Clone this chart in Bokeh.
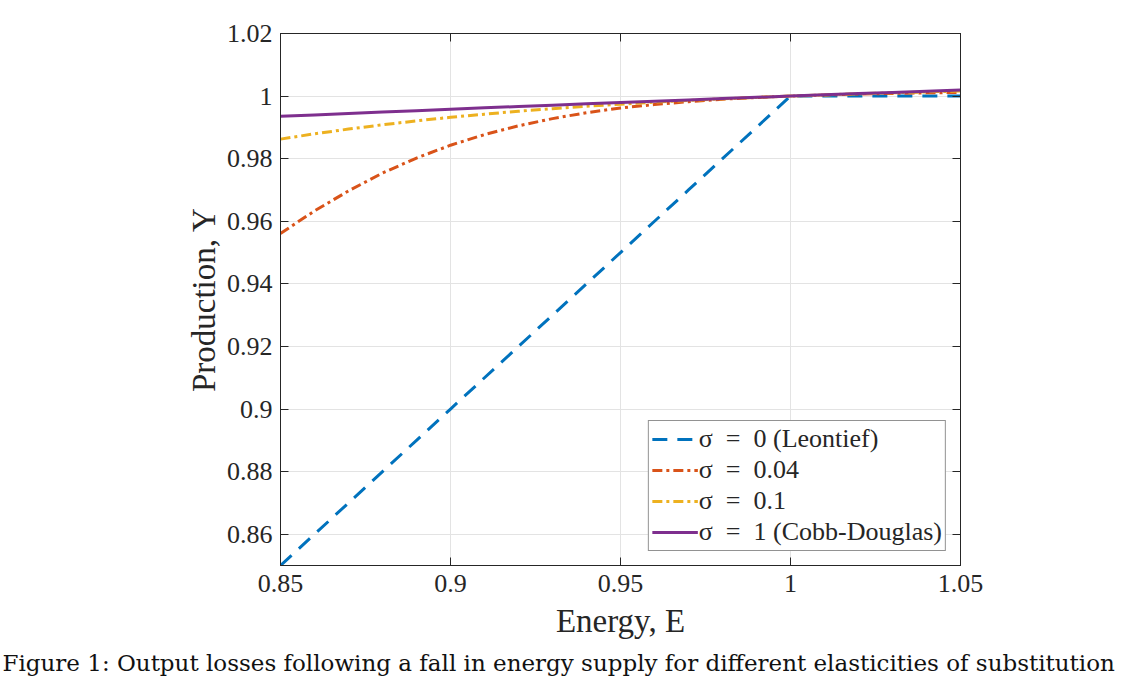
from bokeh.plotting import figure
from bokeh.models import (Range1d, FixedTicker, LinearAxis, Legend, LegendItem, Title,
                          CustomLabelingPolicy)
from bokeh.embed import file_html
from bokeh.resources import INLINE

# Energy grid
E = [0.85, 0.86, 0.87, 0.88, 0.89, 0.90, 0.91, 0.92, 0.93, 0.94, 0.95,
     0.96, 0.97, 0.98, 0.99, 1.00, 1.01, 1.02, 1.03, 1.04, 1.05]

# sigma = 0 (Leontief)
Y_leontief = [0.85, 0.86, 0.87, 0.88, 0.89, 0.90, 0.91, 0.92, 0.93, 0.94, 0.95,
              0.96, 0.97, 0.98, 0.99, 1.00, 1.00, 1.00, 1.00, 1.00, 1.00]
# sigma = 0.04
Y_s004 = [0.9561, 0.9633, 0.9697, 0.9754, 0.9802, 0.9843, 0.9877, 0.9905, 0.9928,
          0.9947, 0.9962, 0.9973, 0.9982, 0.9990, 0.99955, 1.0000, 1.00036, 1.00064,
          1.00086, 1.00103, 1.00117]
# sigma = 0.1
Y_s01 = [0.98625, 0.98794, 0.98946, 0.99084, 0.99208, 0.99321, 0.99423, 0.99515,
         0.99599, 0.99674, 0.99743, 0.99805, 0.99861, 0.99912, 0.99958, 1.0000,
         1.00038, 1.00073, 1.00104, 1.00133, 1.00159]
# sigma = 1 (Cobb-Douglas)
Y_cd = [0.99352, 0.99399, 0.99445, 0.99490, 0.99535, 0.99579, 0.99624, 0.99667,
        0.99710, 0.99753, 0.99795, 0.99837, 0.99878, 0.99919, 0.99960, 1.0000,
        1.00040, 1.00079, 1.00118, 1.00157, 1.00195]

x_ticks = [0.85, 0.9, 0.95, 1.0, 1.05]
x_tick_labels = ["0.85", "0.9", "0.95", "1", "1.05"]
y_ticks = [0.86, 0.88, 0.90, 0.92, 0.94, 0.96, 0.98, 1.00, 1.02]
y_tick_labels = ["0.86", "0.88", "0.9", "0.92", "0.94", "0.96", "0.98", "1", "1.02"]

labels = ["σ\u2002=\u20020 (Leontief)", "σ\u2002=\u20020.04", "σ\u2002=\u20020.1",
          "σ\u2002=\u20021 (Cobb-Douglas)"]
caption = "Figure 1: Output losses following a fall in energy supply for different elasticities of substitution"

FONT = "Liberation Serif"
AX = "#262626"

p = figure(width=1147, height=688, output_backend="svg", toolbar_location=None,
           x_range=Range1d(0.85, 1.05), y_range=Range1d(0.85, 1.02),
           min_border_left=280, min_border_right=187, min_border_top=33,
           min_border_bottom=123)
p.outline_line_color = AX
p.outline_line_width = 1

for ax in (p.xaxis[0], p.yaxis[0]):
    ax.major_tick_in = 8
    ax.major_tick_out = 0
    ax.minor_tick_in = 0
    ax.minor_tick_out = 0
    ax.axis_line_color = AX
    ax.major_tick_line_color = AX
    ax.major_label_text_font = FONT
    ax.major_label_text_font_size = "26px"
    ax.major_label_text_color = AX
    ax.axis_label_text_font = FONT
    ax.axis_label_text_font_size = "33px"
    ax.axis_label_text_font_style = "normal"
    ax.axis_label_text_color = AX

p.xaxis[0].ticker = FixedTicker(ticks=x_ticks)
p.xaxis[0].major_label_overrides = dict(zip(x_ticks, x_tick_labels))
p.xaxis[0].axis_label = "Energy, E"
p.xaxis[0].major_label_standoff = 9
p.xaxis[0].axis_label_standoff = 8
p.yaxis[0].ticker = FixedTicker(ticks=y_ticks)
p.yaxis[0].major_label_overrides = dict(zip(y_ticks, y_tick_labels))
p.yaxis[0].axis_label = "Production, Y"
p.yaxis[0].major_label_standoff = 8
p.yaxis[0].axis_label_standoff = 2

no_labels = "const ids = [...indices]; for (const i of ids) { indices.unset(i) }; return indices"

# box ticks on top and right
top = LinearAxis(ticker=FixedTicker(ticks=x_ticks),
                 major_label_policy=CustomLabelingPolicy(code=no_labels),
                 major_tick_in=8, major_tick_out=0, minor_tick_in=0, minor_tick_out=0,
                 axis_line_color=AX, major_tick_line_color=AX)
right = LinearAxis(ticker=FixedTicker(ticks=y_ticks),
                   major_label_policy=CustomLabelingPolicy(code=no_labels),
                   major_tick_in=8, major_tick_out=0, minor_tick_in=0, minor_tick_out=0,
                   axis_line_color=AX, major_tick_line_color=AX)
p.add_layout(top, "above")
p.add_layout(right, "right")

p.xgrid.ticker = FixedTicker(ticks=x_ticks)
p.ygrid.ticker = FixedTicker(ticks=y_ticks)
p.grid.grid_line_color = "#e3e3e3"
p.grid.grid_line_width = 1

r0 = p.line(E, Y_leontief, line_color="#0072BD", line_width=3, line_dash="15 10")
r1 = p.line(E, Y_s004, line_color="#D95319", line_width=3, line_dash="10 4 3 4")
r2 = p.line(E, Y_s01, line_color="#EDB120", line_width=3, line_dash="10 4 3 4")
r3 = p.line(E, Y_cd, line_color="#7E2F8E", line_width=3)

legend = Legend(items=[LegendItem(label=labels[i], renderers=[r])
                       for i, r in enumerate([r0, r1, r2, r3])],
                location="bottom_right")
legend.label_text_font = FONT
legend.label_text_font_size = "26px"
legend.label_text_color = AX
legend.border_line_color = AX
legend.border_line_width = 1
legend.glyph_width = 46
legend.glyph_height = 28
legend.label_height = 28
legend.label_standoff = 1
legend.spacing = 1
legend.padding = 3
legend.margin = 14
legend.background_fill_alpha = 1
p.add_layout(legend, "center")

cap = Title(text=caption, align="left", offset=-278, standoff=13,
            text_font="DejaVu Serif", text_font_size="23px", text_font_style="normal",
            text_color="#111111")
p.add_layout(cap, "below")

open("out.html", "w").write(file_html(p, INLINE))
